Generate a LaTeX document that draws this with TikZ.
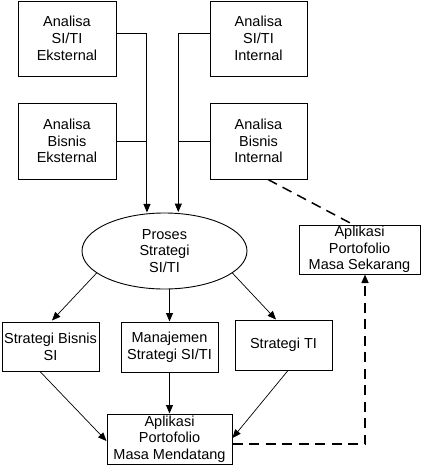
\documentclass[tikz,border=0pt]{standalone}
\usepackage{fontspec}
\setmainfont{Liberation Sans}
\usetikzlibrary{arrows.meta,shapes.geometric,calc}
\begin{document}
\begin{tikzpicture}[x=1pt,y=-1pt,
  txt/.style={font=\fontsize{14.5}{16.7}\selectfont,align=center,inner sep=0pt},
  box/.style={txt,draw,line width=1pt},
  ellbox/.style={txt,draw,ellipse,line width=0.9pt},
  arr/.style={line width=1pt,-{Triangle[length=8.5pt,width=7pt]}},
  darr/.style={line width=0.7pt,-{Triangle[length=8.5pt,width=7pt]}},
  plain/.style={line width=1pt},
  dsh/.style={line width=1.5pt,dash pattern=on 10pt off 6.5pt},
  dsharr/.style={dsh,-{Triangle[length=8.5pt,width=7pt]}}]
\useasboundingbox (0,0) rectangle (426,472);
\node[box,minimum width=98pt,minimum height=75pt] (aSE) at (67,38.5) {Analisa\\SI/TI\\Eksternal};
\node[box,minimum width=98pt,minimum height=76pt] (aBE) at (67,141) {Analisa\\Bisnis\\Eksternal};
\node[box,minimum width=97pt,minimum height=75pt] (aSI) at (258.5,38.5) {Analisa\\SI/TI\\Internal};
\node[box,minimum width=97pt,minimum height=76pt] (aBI) at (258.5,141) {Analisa\\Bisnis\\Internal};
\node[ellbox,minimum width=165pt,minimum height=76pt] (ell) at (164.5,251) {Proses\\Strategi\\SI/TI};
\node[box,minimum width=97pt,minimum height=49pt] (sbs) at (50.5,346.5) {Strategi Bisnis\\SI};
\node[box,minimum width=97pt,minimum height=50pt] (mss) at (169.5,347) {Manajemen\\Strategi SI/TI};
\node[box,minimum width=97pt,minimum height=50pt] (stI) at (283.5,345) {Strategi TI};
\node[box,minimum width=125pt,minimum height=50pt] (mend) at (169.5,439) {Aplikasi\\Portofolio\\Masa Mendatang};
\node[box,minimum width=121pt,minimum height=49pt] (sek) at (359.5,249.5) {Aplikasi\\Portofolio\\Masa Sekarang};
% top connectors
\coordinate (jL) at ($(ell.115)+(0,-1)$);
\coordinate (jR) at ($(ell.70)+(0,-1)$);
\draw[arr] ($(aSE.east)+(0,-5.5)$) -| (jL);
\draw[plain] (aBE.east) -- (aBE.east -| jL);
\draw[arr] ($(aSI.west)+(0,-5.5)$) -| (jR);
\draw[plain] (aBI.west) -- (aBI.west -| jR);
% from ellipse
\draw[darr] (ell.198) -- ($(sbs.north)+(1.5,-1)$);
\draw[arr] (ell.south -| mss.north) -- (mss.north);
\draw[darr] (ell.342) -- ($(stI.north)+(-7.5,0)$);
% to mendatang
\draw[darr] ($(sbs.south)+(-10.5,0)$) -- ($(mend.west)+(0,2)$);
\draw[arr] (mss.south) -- (mend.north);
\draw[darr] ($(stI.south)+(4.5,0)$) -- ($(mend.east)+(0,-1)$);
% dashed
\draw[dsharr] ($(mend.east)+(0,5)$) -| ($(sek.south)+(5.5,0)$);
\draw[dsh] ($(aBI.south)+(9.5,0)$) -- ($(sek.north)+(-6.5,0)$);
\end{tikzpicture}
\end{document}
